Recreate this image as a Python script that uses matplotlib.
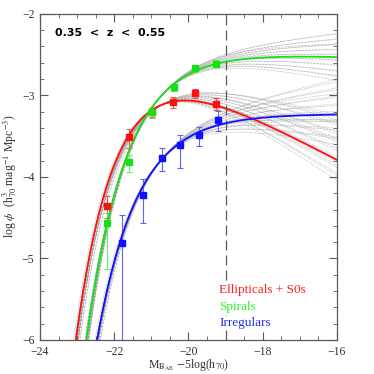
import matplotlib
matplotlib.use("Agg")
import matplotlib.pyplot as plt
import numpy as np
from matplotlib.ticker import MultipleLocator

plt.rcParams['font.family'] = ['Liberation Serif', 'DejaVu Serif']
plt.rcParams['mathtext.fontset'] = 'stix'

# measured points: M, log phi, lower/upper error
ell_M = [-22.19, -21.59, -20.98, -20.43, -19.82, -19.25]
ell_phi = [-4.36, -3.51, -3.21, -3.08, -2.97, -3.10]
ell_lo = [0.14, 0.13, 0.06, 0.08, 0.06, 0.08]
ell_hi = [0.13, 0.10, 0.05, 0.06, 0.05, 0.07]

spi_M = [-22.19, -21.59, -20.98, -20.39, -19.82, -19.25]
spi_phi = [-4.57, -3.82, -3.21, -2.90, -2.67, -2.61]
spi_lo = [0.56, 0.12, 0.07, 0.05, 0.04, 0.04]
spi_hi = [0.13, 0.09, 0.05, 0.04, 0.03, 0.04]

irr_M = [-21.79, -21.22, -20.71, -20.22, -19.72, -19.21]
irr_phi = [-4.81, -4.22, -3.77, -3.61, -3.48, -3.30]
irr_lo = [1.5, 0.34, 0.16, 0.28, 0.14, 0.14]
irr_hi = [0.34, 0.19, 0.12, 0.12, 0.09, 0.11]

# Schechter fits: M*, alpha, phi*
ell_fit = (-20.65, -0.40, 0.002327)
spi_fit = (-20.46, -0.96, 0.003838)
irr_fit = (-20.45, -1.00, 0.000642)

# offsets (alpha, M*) of the dotted curves on the error contours
ell_da = [-0.32, -0.29, -0.26, -0.23, -0.20, -0.17, -0.14, -0.11, -0.08, -0.05, -0.02, 0.01, 0.04, 0.07, 0.10, 0.13, 0.15, -0.25, -0.12, 0.0]
ell_dm = [-0.12, -0.06, -0.10, -0.02, -0.08, 0.00, -0.05, 0.03, -0.02, 0.05, 0.00, 0.07, 0.03, 0.09, 0.05, 0.11, 0.08, 0.04, 0.08, -0.06]
spi_da = [-0.18, -0.16, -0.14, -0.12, -0.10, -0.08, -0.06, -0.04, -0.02, 0.0, 0.02, 0.04, 0.06, 0.08, 0.10, 0.12, 0.14, 0.16, 0.18, -0.07]
spi_dm = [-0.10, -0.04, -0.08, -0.02, -0.06, 0.00, -0.03, 0.03, 0.00, 0.06, 0.02, 0.07, 0.04, 0.09, 0.05, 0.10, 0.07, 0.12, 0.10, 0.06]
irr_da = [-0.26, -0.23, -0.20, -0.17, -0.14, -0.11, -0.08, -0.05, -0.02, 0.01, 0.04, 0.07, 0.10, 0.13, 0.16, 0.19, 0.22, -0.12, 0.03, 0.08]
irr_dm = [-0.12, -0.06, -0.10, -0.03, -0.07, 0.00, -0.04, 0.03, 0.00, 0.06, 0.02, 0.08, 0.04, 0.10, 0.06, 0.12, 0.09, 0.06, -0.06, 0.14]
pivot = -20.7

m_lim = -19.0


def schechter(M, Ms, a, ps):
    x = 10 ** (0.4 * (Ms - M))
    return np.log10(0.4 * np.log(10) * ps * x ** (a + 1) * np.exp(-x))


fig = plt.figure(figsize=(3.74, 3.74), dpi=100)
ax = fig.add_axes([0.107, 0.091, 0.794, 0.872])

M = np.linspace(-24, -16, 600)
for fit, das, dms in [(ell_fit, ell_da, ell_dm), (spi_fit, spi_da, spi_dm), (irr_fit, irr_da, irr_dm)]:
    Ms, a, ps = fit
    for da, dm in zip(das, dms):
        y = schechter(M, Ms + dm, a + da, ps)
        y = y - schechter(pivot, Ms + dm, a + da, ps) + schechter(pivot, Ms, a, ps)
        ax.plot(M, y, color='0.6', lw=0.45, ls=(0, (1, 1.3)), zorder=1)

ax.axvline(m_lim, color='0.35', lw=0.9, ls=(0, (8, 4)), zorder=2)

cols = ['#ff1010', '#18e018', '#1010ff']
ecols = ['#ff5050', '#60ee60', '#6060ff']
for (fit, Mx, ph, lo, hi), c, ec in zip(
        [(ell_fit, ell_M, ell_phi, ell_lo, ell_hi),
         (spi_fit, spi_M, spi_phi, spi_lo, spi_hi),
         (irr_fit, irr_M, irr_phi, irr_lo, irr_hi)], cols, ecols):
    ax.plot(M, schechter(M, *fit), color=c, lw=1.3, zorder=4)
    ax.errorbar(Mx, ph, yerr=[lo, hi], fmt='none', ecolor=ec, elinewidth=0.8,
                capsize=2.2, capthick=0.8, zorder=3)
    ax.plot(Mx, ph, 's', color=c, ms=4.0, mec=c, zorder=5)

ax.set_xlim(-24, -16)
ax.set_ylim(-6, -2)
ax.xaxis.set_major_locator(MultipleLocator(2))
ax.xaxis.set_minor_locator(MultipleLocator(0.5))
ax.yaxis.set_major_locator(MultipleLocator(1))
ax.yaxis.set_minor_locator(MultipleLocator(0.2))
ax.tick_params(which='both', direction='in', top=True, right=True, color='0.35',
               labelsize=8.5, labelcolor='0.2')
ax.tick_params(axis='x', pad=4)
ax.tick_params(axis='y', pad=4)
ax.tick_params(which='major', length=6, width=0.8)
ax.tick_params(which='minor', length=3, width=0.6)
for s in ax.spines.values():
    s.set_color('0.35')
    s.set_linewidth(0.9)

fig.text(0.505, 0.024, r'M$_{\mathrm{B_{AB}}}$ $-$5log(h$_{70}$)', fontsize=8.5, color='0.2',
         ha='center', va='center')
fig.text(0.026, 0.53, r'log $\phi$  (h$^3_{70}$ mag$^{-1}$ Mpc$^{-3}$)', fontsize=8.5, color='0.2',
         ha='center', va='center', rotation=90)

ax.text(0.05, 0.94, '0.35  <  z  <  0.55', transform=ax.transAxes, family='DejaVu Sans',
        fontweight='bold', fontsize=8, va='center', ha='left')
wb = dict(facecolor='white', edgecolor='none', pad=1)
ax.text(0.603, 0.152, 'Ellipticals + S0s', transform=ax.transAxes, color='#ff2020', fontsize=9.5,
        va='center', bbox=wb, zorder=6)
ax.text(0.603, 0.102, 'Spirals', transform=ax.transAxes, color='#30ee30', fontsize=9.5,
        va='center', bbox=wb, zorder=6)
ax.text(0.603, 0.052, 'Irregulars', transform=ax.transAxes, color='#2030ee', fontsize=9.5,
        va='center', bbox=wb, zorder=6)

fig.savefig('out.png', dpi=100)
